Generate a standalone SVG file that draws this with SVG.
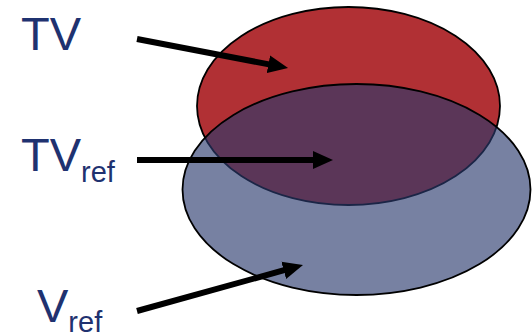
<svg xmlns="http://www.w3.org/2000/svg" width="532" height="336" viewBox="0 0 532 336">
  <defs>
    <style>
      .set { stroke: #000; stroke-width: 1.8; }
      .tv { fill: #b13034; }
      .vref { fill: #2a3a6d; fill-opacity: 0.64; }
      .label { font-family: "Liberation Sans", Arial, sans-serif; fill: #1f3270; font-size: 47px; }
      .sub { font-size: 29px; }
      .arrow { stroke: #000; stroke-width: 6; fill: none; marker-end: url(#head); }
    </style>
    <marker id="head" viewBox="0 0 20 20" refX="6" refY="10" markerWidth="20" markerHeight="20" markerUnits="userSpaceOnUse" orient="auto">
      <path d="M0,1 L20,10 L0,19 Z" fill="#000"/>
    </marker>
  </defs>

  <!-- sets -->
  <g id="set-tv">
    <ellipse class="set tv" cx="348.5" cy="106" rx="151.5" ry="99"/>
  </g>
  <g id="set-vref">
    <ellipse class="set vref" cx="356.5" cy="189.5" rx="174" ry="105.5"/>
  </g>

  <!-- labels -->
  <g id="label-tv">
    <text class="label" x="21" y="50">TV</text>
  </g>
  <g id="label-tvref">
    <text class="label" x="21" y="171">TV<tspan class="sub" dy="10.5">ref</tspan></text>
  </g>
  <g id="label-vref">
    <text class="label" x="37" y="322">V<tspan class="sub" dy="10">ref</tspan></text>
  </g>

  <!-- pointers from labels into the regions -->
  <g id="connectors">
    <line class="arrow" x1="137" y1="39" x2="274.3" y2="65.4"/>
    <line class="arrow" x1="137" y1="160" x2="319" y2="160"/>
    <line class="arrow" x1="137" y1="311" x2="289.5" y2="268.7"/>
  </g>
</svg>
